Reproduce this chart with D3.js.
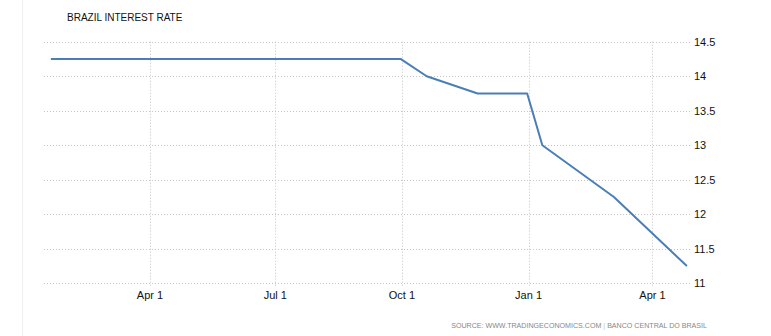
<!DOCTYPE html>
<html>
<head>
<meta charset="utf-8">
<script src="https://cdn.jsdelivr.net/npm/d3@7"></script>
<style>
  body { margin: 0; background: #fff; }
  text { font-family: "Liberation Sans", Arial, sans-serif; }
</style>
</head>
<body>
<div id="container"></div>
<script>

// chart data
const dates = ["2016-01-20", "2016-09-30", "2016-10-19", "2016-11-25", "2016-12-31", "2017-01-11", "2017-03-04", "2017-04-26"];
const rates = [14.25, 14.25, 14.00, 13.75, 13.75, 13.00, 12.25, 11.25];
const yTicks = [11, 11.5, 12, 12.5, 13, 13.5, 14, 14.5];
const xDomain = ["2016-01-15", "2017-04-29"];
const yDomain = [11, 14.5];
const title = "BRAZIL INTEREST RATE";
const source = "SOURCE: WWW.TRADINGECONOMICS.COM";
const sourceOrg = "BANCO CENTRAL DO BRASIL";

let svg, x, y, w, h, margin, lineColor, gridColor;

w = 771;
h = 336;
margin = { top: 41.7, right: 80, bottom: 52.7, left: 44 };
lineColor = "#4a7eb6";
gridColor = "#c4c4c4";

const parse = d3.timeParse("%Y-%m-%d");
const points = dates.map((d, i) => ({ date: parse(d), value: rates[i] }));

const init = () => {
  createSvg();
  createScales();
  createGrid();
  createLine();
  createText();
}

const createSvg = () => {
  svg = d3.select("#container")
    .append("svg")
    .attr("width", w)
    .attr("height", h);

  // faint frame line on the left
  svg.append("line")
    .attr("x1", 22.5).attr("x2", 22.5)
    .attr("y1", 0).attr("y2", h)
    .attr("stroke", "#f0f0f0");
}

const createScales = () => {
  x = d3.scaleTime()
    .domain(xDomain.map(parse))
    .range([margin.left, w - margin.right]);

  y = d3.scaleLinear()
    .domain(yDomain)
    .range([h - margin.bottom, margin.top]);
}

const createGrid = () => {
  const xTicks = x.ticks(d3.timeMonth.every(3));

  svg.append("g")
    .selectAll("line")
    .data(yTicks)
    .join("line")
    .attr("x1", margin.left)
    .attr("x2", w - margin.right)
    .attr("y1", d => Math.round(y(d)) + 0.5)
    .attr("y2", d => Math.round(y(d)) + 0.5)
    .attr("stroke", gridColor)
    .attr("stroke-dasharray", "1,2");

  svg.append("g")
    .selectAll("line")
    .data(xTicks)
    .join("line")
    .attr("x1", d => Math.round(x(d)) + 0.5)
    .attr("x2", d => Math.round(x(d)) + 0.5)
    .attr("y1", margin.top)
    .attr("y2", h - margin.bottom + 3)
    .attr("stroke", gridColor)
    .attr("stroke-dasharray", "1,2");

  svg.append("g")
    .selectAll("text")
    .data(xTicks)
    .join("text")
    .attr("x", d => x(d))
    .attr("y", h - margin.bottom + 16)
    .attr("text-anchor", "middle")
    .style("font-size", "11px")
    .attr("fill", "#111")
    .text(d => d3.timeFormat("%b %-d")(d));

  svg.append("g")
    .selectAll("text")
    .data(yTicks)
    .join("text")
    .attr("x", w - margin.right + 3)
    .attr("y", d => y(d) + 4)
    .style("font-size", "11px")
    .attr("fill", "#111")
    .text(d => d);
}

const createLine = () => {
  const line = d3.line()
    .x(d => x(d.date))
    .y(d => y(d.value));

  svg.append("path")
    .datum(points)
    .attr("d", line)
    .attr("fill", "none")
    .attr("stroke", lineColor)
    .attr("stroke-width", 2)
    .attr("stroke-linejoin", "round");
}

const createText = () => {
  svg.append("text")
    .attr("x", 67)
    .attr("y", 21)
    .style("font-size", "10px")
    .attr("fill", "#111")
    .text(title);

  const src = svg.append("text")
    .attr("x", 707)
    .attr("y", 328)
    .attr("text-anchor", "end")
    .style("font-size", "7.1px")
    .attr("fill", "#888");

  src.append("tspan").text(source + " ");
  src.append("tspan").attr("fill", "#bbb").text("|");
  src.append("tspan").text(" " + sourceOrg);
}

init();
</script>
</body>
</html>
